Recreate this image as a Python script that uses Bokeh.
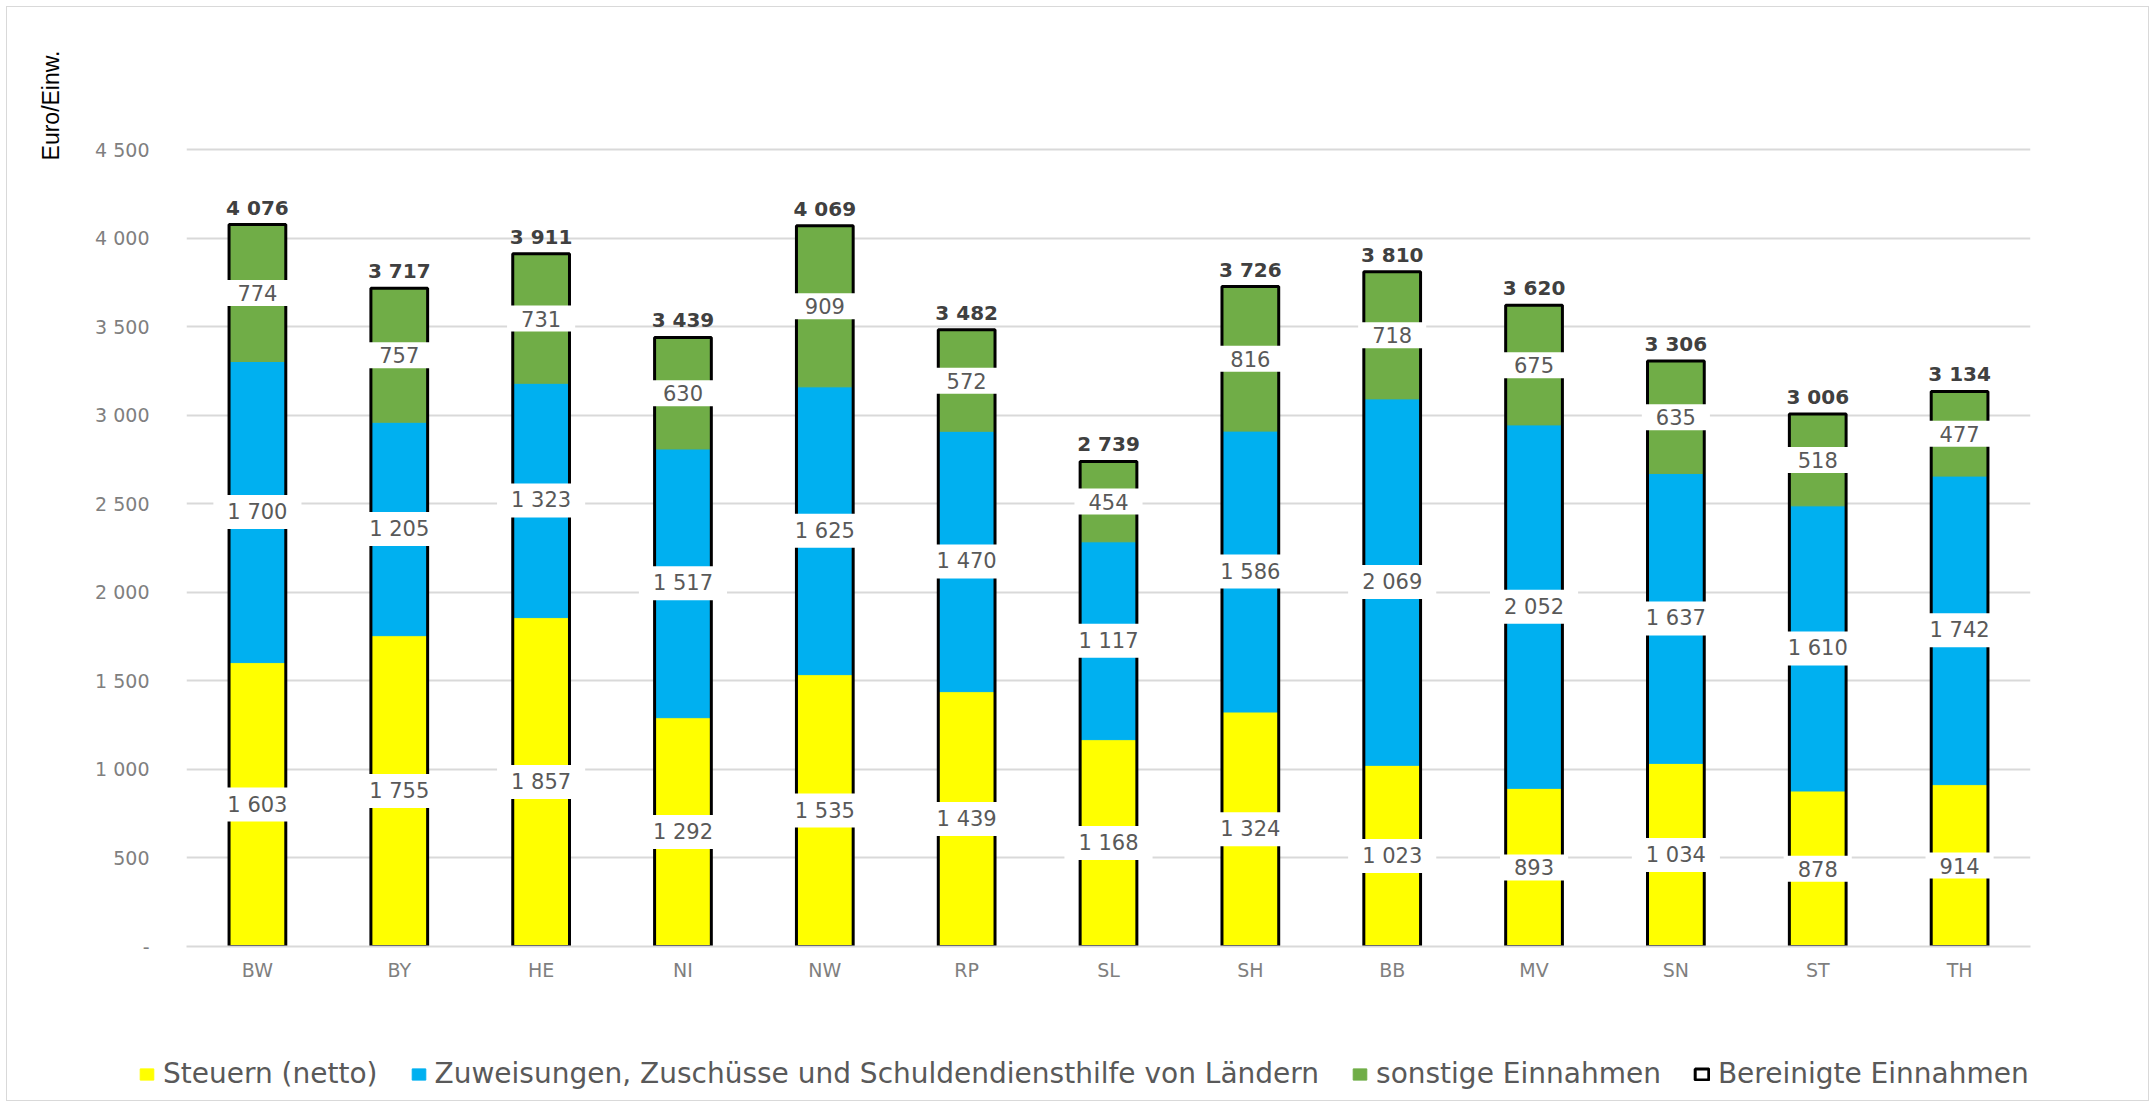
from bokeh.plotting import figure
from bokeh.layouts import column
from bokeh.models import (ColumnDataSource, FactorRange, Range1d, FixedTicker,
                          Legend, LegendItem, Title)
from bokeh.embed import file_html
from bokeh.resources import INLINE
from bokeh.core.properties import value

# ---------------- data ----------------
states = ["BW", "BY", "HE", "NI", "NW", "RP", "SL", "SH", "BB", "MV", "SN", "ST", "TH"]
steuern = [1603, 1755, 1857, 1292, 1535, 1439, 1168, 1324, 1023, 893, 1034, 878, 914]
zuweisungen = [1700, 1205, 1323, 1517, 1625, 1470, 1117, 1586, 2069, 2052, 1637, 1610, 1742]
sonstige = [774, 757, 731, 630, 909, 572, 454, 816, 718, 675, 635, 518, 477]
bereinigt = [4076, 3717, 3911, 3439, 4069, 3482, 2739, 3726, 3810, 3620, 3306, 3006, 3134]
y_ticks = [0, 500, 1000, 1500, 2000, 2500, 3000, 3500, 4000, 4500]
series_names = ["Steuern (netto)",
                "Zuweisungen, Zuschüsse und Schuldendiensthilfe von Ländern",
                "sonstige Einnahmen",
                "Bereinigte Einnahmen"]
y_label = "Euro/Einw."

# ---------------- style ----------------
colors = ["#FFFF00", "#00B0F0", "#70AD47"]
FONT = "DejaVu Sans"
GRID = "#d9d9d9"
Y_END = 5059
BAR_W = 0.40
W = 2141


def fmt(v):
    return f"{v:,}".replace(",", " ")


segments = [steuern, zuweisungen, sonstige]
bottoms, tops = [], []
run = [0] * len(states)
for seg in segments:
    bottoms.append(list(run))
    run = [a + b for a, b in zip(run, seg)]
    tops.append(list(run))

p = figure(x_range=FactorRange(*states), y_range=Range1d(0, Y_END),
           width=W, height=1000, output_backend="svg", toolbar_location=None,
           min_border_left=177, min_border_right=118, min_border_top=43,
           min_border_bottom=61)
p.outline_line_color = None
p.background_fill_color = "white"
p.border_fill_color = "white"
p.frame_align = False

for i, seg in enumerate(segments):
    src = ColumnDataSource(dict(x=states, bottom=bottoms[i], top=tops[i]))
    p.vbar(x="x", bottom="bottom", top="top", width=BAR_W, source=src,
           fill_color=colors[i], line_color=colors[i], line_width=1)

tot_src = ColumnDataSource(dict(x=states, top=bereinigt,
                                lab=[fmt(v) for v in bereinigt]))
p.vbar(x="x", bottom=0, top="top", width=BAR_W, source=tot_src,
       fill_alpha=0, line_color="black", line_width=3)

# segment labels (centre of each segment, white box)
lx, ly, lt = [], [], []
for i, seg in enumerate(segments):
    for j, s in enumerate(states):
        lx.append(s)
        ly.append((bottoms[i][j] + tops[i][j]) / 2)
        lt.append(fmt(seg[j]))
lab_src = ColumnDataSource(dict(x=lx, y=ly, t=lt))
p.text(x="x", y="y", text="t", source=lab_src, text_align="center",
       text_baseline="middle", text_font=value(FONT), text_font_size="21px",
       text_color="#595959", background_fill_color="white", padding=(14, 5))

# totals
p.text(x="x", y="top", text="lab", source=tot_src, text_align="center",
       text_baseline="bottom", y_offset=-5, text_font=value(FONT),
       text_font_size="20px", text_font_style="bold", text_color="#404040")

# axes
p.xgrid.grid_line_color = None
p.ygrid.grid_line_color = GRID
p.ygrid.grid_line_width = 2
p.yaxis.ticker = FixedTicker(ticks=y_ticks)
p.yaxis.major_label_overrides = {t: ("-" if t == 0 else fmt(t)) for t in y_ticks}
p.yaxis.axis_line_color = None
p.yaxis.major_tick_line_color = None
p.yaxis.minor_tick_line_color = None
p.yaxis.major_tick_out = 0
p.yaxis.major_label_standoff = 37
p.yaxis.major_label_text_font = FONT
p.yaxis.major_label_text_font_size = "19px"
p.yaxis.major_label_text_color = "#7f7f7f"

p.xaxis.axis_line_color = GRID
p.xaxis.axis_line_width = 2
p.xaxis.major_tick_line_color = None
p.xaxis.minor_tick_line_color = None
p.xaxis.major_tick_out = 0
p.xaxis.major_label_standoff = 12
p.xaxis.major_label_text_font = FONT
p.xaxis.major_label_text_font_size = "19px"
p.xaxis.major_label_text_color = "#7f7f7f"

p.add_layout(Title(text=y_label, align="right", text_font="Liberation Sans",
                   text_font_size="23px", text_font_style="normal",
                   text_color="black", standoff=57), "left")

# ---------------- legend strip ----------------
# same series in a strip with hidden renderers; only the legend is visible
pl = figure(x_range=FactorRange(*states), y_range=Range1d(0, Y_END),
            width=W, height=93, output_backend="svg", toolbar_location=None,
            x_axis_type=None, y_axis_type=None, min_border=0)
pl.outline_line_color = None
pl.grid.visible = False
pl.frame_align = False
leg_renderers = []
for i, seg in enumerate(segments):
    src = ColumnDataSource(dict(x=states, bottom=bottoms[i], top=tops[i]))
    leg_renderers.append(pl.vbar(x="x", bottom="bottom", top="top", width=BAR_W,
                                 source=src, fill_color=colors[i],
                                 line_color=colors[i], line_width=1, visible=False))
leg_renderers.append(pl.vbar(x="x", bottom=0, top="top", width=BAR_W, source=tot_src,
                             fill_color="white", line_color="black", line_width=3,
                             visible=False))
legend = Legend(items=[LegendItem(label=series_names[i], renderers=[leg_renderers[i]])
                       for i in range(4)],
                location=(131, 10), orientation="horizontal",
                glyph_width=17, glyph_height=14, label_standoff=8, spacing=32,
                padding=0, margin=0, border_line_color=None,
                background_fill_alpha=0, inactive_fill_alpha=0,
                label_text_font=FONT,
                label_text_font_size="28px", label_text_color="#595959")
pl.add_layout(legend)

root = column(p, pl, spacing=0)
root.styles = {"border": "1px solid #d9d9d9", "margin-left": "6px", "margin-top": "6px"}

open("out.html", "w").write(file_html(root, INLINE))
